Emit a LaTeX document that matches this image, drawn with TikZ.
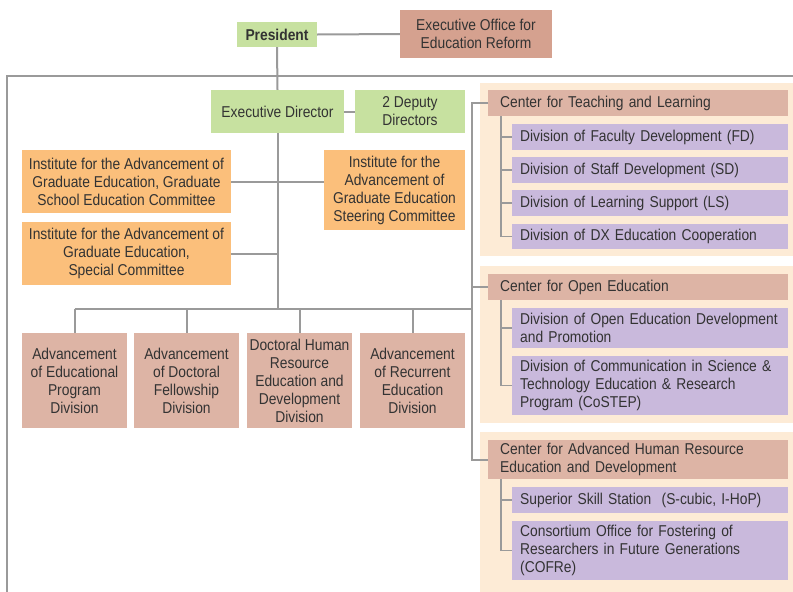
\documentclass[tikz,border=0pt]{standalone}
\usepackage{fontspec}
\setmainfont{Liberation Sans}[FakeStretch=0.88]
\usetikzlibrary{positioning}

\definecolor{boxgreen}{HTML}{C7E1A0}
\definecolor{boxoffice}{HTML}{D5A18F}
\definecolor{boxrose}{HTML}{DDB4A5}
\definecolor{boxorange}{HTML}{FBBF7B}
\definecolor{boxlilac}{HTML}{C9B9DC}
\definecolor{panelcream}{HTML}{FDEBD6}
\definecolor{linegray}{HTML}{9A9A9A}
\definecolor{textgray}{HTML}{333333}

\begin{document}
\begin{tikzpicture}[x=1pt,y=-1pt,font=\fontsize{15.7}{18}\selectfont,text=textgray]
    \tikzstyle{box}=[rectangle, inner sep=0pt, align=center]
    \tikzstyle{green}=[box, fill=boxgreen]
    \tikzstyle{office}=[box, fill=boxoffice]
    \tikzstyle{rose}=[box, fill=boxrose]
    \tikzstyle{orange}=[box, fill=boxorange]
    \tikzstyle{center}=[rectangle, fill=boxrose, anchor=north west, minimum width=300pt, text width=276pt, inner xsep=12pt, inner ysep=0pt, align=left]
    \tikzstyle{division}=[rectangle, fill=boxlilac, anchor=north west, minimum width=276pt, text width=260pt, inner xsep=8pt, inner ysep=0pt, align=left]
    \tikzstyle{link}=[draw=linegray, line width=2pt]
    \tikzstyle{sublink}=[draw=linegray, line width=1.5pt]
    \tikzstyle{frame}=[draw=linegray, line width=2.5pt]

    \useasboundingbox (0,0) rectangle (793,592);

    % panels
    \fill[panelcream] (480,83) rectangle (793,256);
    \fill[panelcream] (480,266) rectangle (793,423);
    \fill[panelcream] (480,432) rectangle (793,592);

    % top
    \node[green, minimum width=80pt, minimum height=25pt, font=\fontsize{15.7}{18}\selectfont\bfseries] at (277,34.5) (pres) {President};
    \node[office, minimum width=152pt, minimum height=48pt] at (476,34) (office) {Executive Office for\\Education Reform};
    \node[green, minimum width=133pt, minimum height=43pt] at (277.5,111.5) (ed) {Executive Director};
    \node[green, minimum width=110pt, minimum height=43pt] at (410,111.5) (deputy) {2 Deputy\\Directors};

    % institutes
    \node[orange, minimum width=209pt, minimum height=63pt] at (126.5,181.5) (instA) {Institute for the Advancement of\\Graduate Education, Graduate\\School Education Committee};
    \node[orange, minimum width=141pt, minimum height=80pt] at (394.5,190) (instB) {Institute for the\\Advancement of\\Graduate Education\\Steering Committee};
    \node[orange, minimum width=209pt, minimum height=63pt] at (126.5,253.5) (instC) {Institute for the Advancement of\\Graduate Education,\\Special Committee};

    % divisions under the director
    \node[rose, minimum width=105pt, minimum height=95pt] at (74.5,380.5) (progdiv) {Advancement\\of Educational\\Program\\Division};
    \node[rose, minimum width=105pt, minimum height=95pt] at (186.5,380.5) (fellowdiv) {Advancement\\of Doctoral\\Fellowship\\Division};
    \node[rose, minimum width=105pt, minimum height=95pt] at (299.5,380.5) (doctdiv) {Doctoral Human\\Resource\\Education and\\Development\\Division};
    \node[rose, minimum width=105pt, minimum height=95pt] at (412.5,380.5) (recurdiv) {Advancement\\of Recurrent\\Education\\Division};

    % centers
    \node[center, minimum height=26pt] at (488,90) (ctl) {Center for Teaching and Learning};
    \node[division, minimum height=26pt] at (512,124) (fd) {Division of Faculty Development (FD)};
    \node[division, minimum height=26pt] at (512,157) (sd) {Division of Staff Development (SD)};
    \node[division, minimum height=26pt] at (512,190) (ls) {Division of Learning Support (LS)};
    \node[division, minimum height=25pt] at (512,224) (dx) {Division of DX Education Cooperation};

    \node[center, minimum height=26pt] at (488,274) (coe) {Center for Open Education};
    \node[division, minimum height=40pt] at (512,308) (oedp) {Division of Open Education Development\\and Promotion};
    \node[division, minimum height=59pt] at (512,356) (costep) {Division of Communication in Science \&\\Technology Education \& Research\\Program (CoSTEP)};

    \node[center, minimum height=39pt] at (488,440) (cahr) {Center for Advanced Human Resource\\Education and Development};
    \node[division, minimum height=26pt] at (512,487) (sss) {Superior Skill Station~ (S-cubic, I-HoP)};
    \node[division, minimum height=59pt] at (512,521) (cofre) {Consortium Office for Fostering of\\Researchers in Future Generations\\(COFRe)};

    % frame
    \draw[frame] (793,76) -- (7,76) -- (7,592);

    % connectors
    \coordinate (busL) at (74.5,309);
    \coordinate (busR) at (472,309);
    \draw[link] (pres.east) -- (office.west);
    \draw[link] (pres.south) -- (ed.north);
    \draw[link] (ed.east) -- (deputy.west);
    \draw[link] (ed.south) -- (ed.south |- busL);
    \draw[link] (instA.east) -- (instA.east -| instB.west);
    \draw[link] (instC.east) -- (instC.east -| ed.south);
    \draw[link] (busL) -- (busR);
    \foreach \d in {progdiv,fellowdiv,doctdiv,recurdiv}
        \draw[link] (\d.north |- busL) -- (\d.north);
    \draw[link] (ctl.west) -- (ctl.west -| busR) -- (cahr.west -| busR) -- (cahr.west);
    \draw[link] (coe.west -| busR) -- (coe.west);

    \foreach \d in {fd,sd,ls,dx}
        \draw[sublink] ([xshift=13pt]ctl.south west) |- (\d.west);
    \foreach \d in {oedp,costep}
        \draw[sublink] ([xshift=13pt]coe.south west) |- (\d.west);
    \foreach \d in {sss,cofre}
        \draw[sublink] ([xshift=13pt]cahr.south west) |- (\d.west);
\end{tikzpicture}
\end{document}
